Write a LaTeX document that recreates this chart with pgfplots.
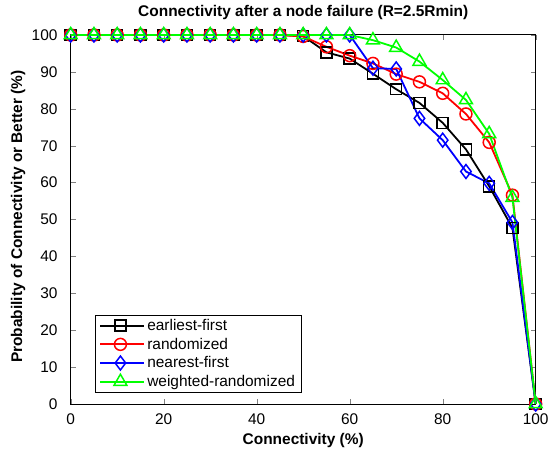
\documentclass[border=0pt]{standalone}
\usepackage{fontspec}
\setmainfont{Liberation Sans}
\usepackage{pgfplots}
\pgfplotsset{compat=1.18}
\usetikzlibrary{calc}
\begin{document}
\begin{tikzpicture}
\begin{axis}[
  name=ax,
  scale only axis,
  width=465bp, height=369bp,
  xmin=0, xmax=100, ymin=0, ymax=100,
  xtick={0,20,40,60,80,100},
  ytick={0,10,20,30,40,50,60,70,80,90,100},
  tick align=inside,
  major tick length=5bp,
  /pgf/number format/assume math mode=true,
  tick label style={font=\fontsize{15.5}{17}\selectfont},
  xticklabel style={anchor=base, inner sep=0pt, yshift=-20bp},
  yticklabel style={anchor=east, inner sep=0pt, xshift=-13bp},
  title={\textbf{Connectivity after a node failure (R=2.5Rmin)}},
  title style={font=\fontsize{15.5}{17}\selectfont, at={(axis description cs:0.5,1.0339)}, anchor=base},
  xlabel={\textbf{Connectivity (\%)}},
  ylabel={\textbf{Probability of Connectivity or Better (\%)}},
  label style={font=\fontsize{15.5}{17}\selectfont},
  xlabel style={at={(axis description cs:0.5,-0.1084)}, anchor=base},
  ylabel style={at={(axis description cs:-0.1047,0.508)}, anchor=base},
  clip=false,
  axis line style={line width=1pt},
  legend style={at={(axis description cs:0.053,0.0306)}, anchor=south west, font=\fontsize{15.5}{17}\selectfont,
    draw=black, row sep=2pt, inner xsep=4pt, inner ysep=2.5pt},
  legend cell align=left,
  legend image code/.code={\path (-4bp,0bp) -- (40bp,0bp);\draw[line width=1.8pt, mark repeat=2, mark phase=2] plot coordinates {(0bp,0bp)(16bp,0bp)(32bp,0bp)};},
  every axis plot/.append style={line width=1.8pt},
]
\addplot[black, line width=1.8pt, mark=square, mark size=5.5pt, mark options={solid, line width=1.5pt}] coordinates {
(0,100)(5,100)(10,100)(15,100)(20,100)(25,100)(30,100)(35,100)(40,100)(45,100)
(50,99.7)(55,95.3)(60,93.6)(65,89.5)(70,85.3)(75,81.6)(80,76.2)(85,69.0)(90,59.0)(95,47.7)(100,0)};
\addlegendentry{earliest-first}
\addplot[red, line width=1.8pt, mark=o, mark size=6pt, mark options={solid, line width=1.5pt}] coordinates {
(0,100)(5,100)(10,100)(15,100)(20,100)(25,100)(30,100)(35,100)(40,100)(45,100)
(50,99.6)(55,96.8)(60,94.4)(65,92.3)(70,89.4)(75,87.3)(80,84.2)(85,78.6)(90,70.9)(95,56.6)(100,0)};
\addlegendentry{randomized}
\addplot[blue, line width=1.8pt, mark=diamond, mark size=7pt, mark options={solid, line width=1.5pt}] coordinates {
(0,100)(5,100)(10,100)(15,100)(20,100)(25,100)(30,100)(35,100)(40,100)(45,100)
(50,100)(55,100)(60,100)(65,91.0)(70,90.8)(75,77.4)(80,71.5)(85,63.0)(90,59.8)(95,49.2)(100,0)};
\addlegendentry{nearest-first}
\addplot[green, line width=1.8pt, mark=triangle, mark size=7.5pt, mark options={solid, line width=1.5pt}] coordinates {
(0,100)(5,100)(10,100)(15,100)(20,100)(25,100)(30,100)(35,100)(40,100)(45,100)
(50,100)(55,100)(60,100)(65,98.6)(70,96.6)(75,92.8)(80,87.8)(85,82.4)(90,73.2)(95,55.9)(100,0)};
\addlegendentry{weighted-randomized}
\end{axis}
\pgfresetboundingbox
\path ($(ax.south west)+(-70.7bp,-45bp)$) rectangle ($(ax.north east)+(13.3bp,35bp)$);
\end{tikzpicture}
\end{document}
